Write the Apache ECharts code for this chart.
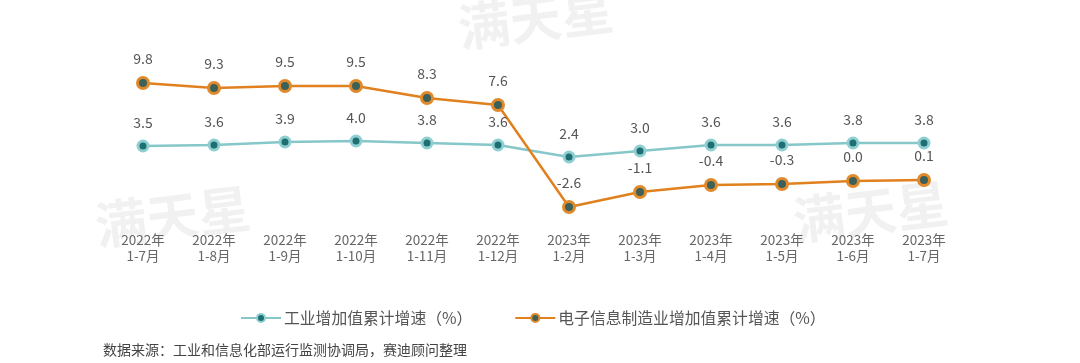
<!DOCTYPE html>
<html><head><meta charset="utf-8">
<script src="https://cdn.jsdelivr.net/npm/echarts@6/dist/echarts.min.js"></script>
<style>html,body{margin:0;padding:0;background:#fff}#c{width:1080px;height:363px}</style>
</head><body><div id="c"></div>
<script>
const categories = ['2022年\n1-7月','2022年\n1-8月','2022年\n1-9月','2022年\n1-10月','2022年\n1-11月','2022年\n1-12月','2023年\n1-2月','2023年\n1-3月','2023年\n1-4月','2023年\n1-5月','2023年\n1-6月','2023年\n1-7月'];
const industry = [3.5,3.6,3.9,4.0,3.8,3.6,2.4,3.0,3.6,3.6,3.8,3.8];
const electronics = [9.8,9.3,9.5,9.5,8.3,7.6,-2.6,-1.1,-0.4,-0.3,0.0,0.1];
const seriesNames = ['工业增加值累计增速（%）','电子信息制造业增加值累计增速（%）'];
const sourceText = '数据来源：工业和信息化部运行监测协调局，赛迪顾问整理';
const watermark = '满天星';

const font = '"Noto Sans CJK SC", "Noto Sans", sans-serif';
const chart = echarts.init(document.getElementById('c'));
const wm = (x,y)=>({type:'text',x:x,y:y,rotation:0.12,z:-10,silent:true,
  style:{text:watermark,fill:'rgba(0,0,0,0.055)',font:'bold 52px '+font}});
chart.setOption({
  animation:false,
  textStyle:{fontFamily:font},
  grid:{left:107.5,right:120.5,top:41,height:180},
  xAxis:{type:'category',data:categories,boundaryGap:true,
    axisLine:{show:false},axisTick:{show:false},
    axisLabel:{color:'#666',fontSize:13.5,lineHeight:16,margin:11,fontFamily:font,interval:0}},
  yAxis:{type:'value',min:-4,max:14,show:false,splitLine:{show:false}},
  legend:{top:305,left:235,itemWidth:40,itemHeight:10,itemGap:42,
    textStyle:{color:'#555',fontSize:15.8,fontFamily:font,padding:[0,0,0,-2]},data:seriesNames},
  graphic:[wm(455,2),wm(92,200),wm(790,195),
    {type:'text',left:103,top:343,style:{text:sourceText,fill:'#444',font:'14px '+font}}],
  series:[
    {name:seriesNames[0],type:'line',data:industry,symbol:'circle',symbolSize:10,
     lineStyle:{color:'#86c7ca',width:2.5},
     itemStyle:{color:'#1e6e72',borderColor:'#8fcfd2',borderWidth:3},
     label:{show:true,position:'top',distance:10,color:'#555',fontSize:14,fontFamily:font,formatter:p=>p.value.toFixed(1)}},
    {name:seriesNames[1],type:'line',data:electronics,symbol:'circle',symbolSize:11,
     lineStyle:{color:'#e0801e',width:2.5},
     itemStyle:{color:'#3d6158',borderColor:'#e08a2c',borderWidth:3},
     label:{show:true,position:'top',distance:10,color:'#555',fontSize:14,fontFamily:font,formatter:p=>p.value.toFixed(1)}}
  ]
});
</script></body></html>
